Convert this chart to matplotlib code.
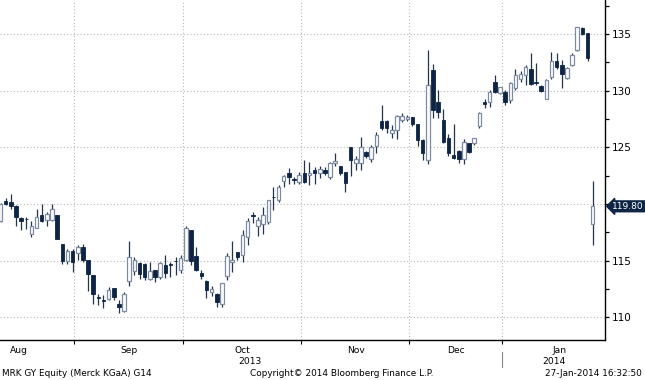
import numpy as np
import matplotlib
matplotlib.use('Agg')
import matplotlib.pyplot as plt
import matplotlib.transforms as mtransforms
from matplotlib.ticker import MultipleLocator

# ── data: daily OHLC, MRK GY, 12-Aug-2013 .. 27-Jan-2014 ─────────────────────
opens = [118.5, 120.3, 120.2, 119.8, 118.8, 118.7, 117.4, 117.9, 119.0, 118.6,
         118.6, 119.0, 116.45, 114.95, 115.9, 115.7, 116.2, 115.05, 113.7, 111.8,
         111.5, 111.6, 112.6, 111.2, 110.6, 113.2, 114.1, 114.8, 114.7, 113.4,
         114.2, 113.6, 114.6, 114.7, 115.0, 114.2, 115.1, 117.7, 115.4, 113.95,
         113.25, 112.25, 112.1, 111.2, 113.65, 114.9, 115.8, 115.5, 117.1, 119.0,
         118.1, 118.2, 118.4, 120.65, 120.35, 122.0, 122.7, 122.2, 121.95, 122.75,
         122.55, 123.0, 122.7, 123.0, 122.4, 123.6, 123.35, 122.85, 125.0, 123.65,
         123.6, 124.6, 124.0, 125.1, 127.3, 127.35, 126.3, 126.5, 127.4, 127.5,
         127.65, 127.05, 125.65, 123.9, 131.8, 129.0, 127.4, 125.8, 124.3, 124.7,
         123.95, 125.35, 125.35, 126.9, 129.0, 129.0, 130.8, 129.8, 129.9, 129.2,
         130.2, 131.0, 131.4, 131.9, 130.75, 130.4, 129.3, 131.2, 132.6, 132.3,
         131.1, 132.3, 133.6, 135.5, 135.1, 118.2]
highs = [120.1, 120.5, 120.9, 119.9, 118.85, 118.9, 118.5, 119.6, 120.0, 119.3,
         120.0, 119.05, 116.5, 116.0, 116.0, 116.4, 116.5, 115.1, 113.7, 112.1,
         112.0, 112.7, 112.6, 111.5, 112.2, 116.7, 115.3, 114.9, 114.8, 114.9,
         114.2, 114.9, 115.5, 114.9, 115.35, 115.5, 118.1, 117.7, 116.2, 114.2,
         113.3, 112.8, 112.15, 113.05, 115.65, 116.7, 115.8, 117.7, 118.8, 119.3,
         118.9, 119.7, 120.4, 121.5, 121.7, 122.6, 123.2, 122.35, 122.85, 123.9,
         123.7, 123.3, 123.4, 123.3, 123.7, 124.5, 123.35, 122.85, 125.0, 124.2,
         125.9, 124.7, 125.2, 126.4, 128.7, 127.4, 127.0, 127.85, 128.0, 127.85,
         127.7, 127.1, 125.7, 133.6, 132.35, 130.05, 128.4, 126.2, 127.05, 124.8,
         125.7, 125.35, 125.85, 128.15, 129.25, 130.05, 131.4, 130.35, 130.05, 130.8,
         131.9, 131.7, 132.3, 133.3, 132.4, 130.5, 131.0, 133.4, 133.3, 132.7,
         132.1, 133.35, 135.6, 135.6, 135.1, 122.05]
lows = [118.4, 119.9, 119.6, 118.1, 117.7, 117.8, 117.1, 117.85, 118.4, 118.1,
        118.5, 116.9, 114.75, 114.75, 114.0, 115.05, 114.9, 112.3, 111.2, 111.1,
        110.8, 111.5, 111.5, 110.35, 110.5, 112.8, 113.7, 113.4, 113.3, 113.3,
        113.1, 113.4, 113.5, 113.6, 113.7, 113.9, 115.0, 114.6, 114.1, 113.4,
        111.75, 111.9, 110.9, 110.9, 113.3, 114.0, 115.05, 114.9, 116.4, 118.3,
        117.2, 117.4, 118.2, 119.5, 120.2, 121.5, 121.8, 121.8, 121.8, 121.9,
        121.7, 121.8, 122.3, 122.55, 122.2, 123.4, 122.55, 121.1, 122.5, 123.0,
        123.0, 124.1, 123.7, 124.5, 126.5, 126.3, 125.8, 125.7, 127.2, 127.3,
        126.9, 125.1, 123.9, 123.5, 127.6, 127.6, 125.35, 124.2, 123.95, 123.65,
        123.5, 124.5, 125.2, 126.75, 128.5, 128.6, 129.8, 129.7, 128.7, 128.95,
        130.05, 130.8, 130.5, 130.5, 130.5, 129.9, 129.3, 131.0, 131.95, 130.2,
        131.0, 132.2, 133.5, 134.9, 132.6, 116.4]
closes = [120.0, 120.0, 119.8, 118.9, 118.5, 118.65, 118.1, 118.9, 118.5, 119.1,
          119.55, 116.9, 114.95, 115.9, 114.9, 116.2, 115.05, 113.8, 112.1, 111.75,
          111.45, 112.4, 111.8, 110.9, 112.1, 115.3, 115.05, 113.8, 113.6, 114.1,
          113.6, 114.8, 113.9, 114.6, 114.95, 115.2, 117.9, 115.0, 114.2, 113.65,
          112.45, 112.55, 111.35, 113.0, 115.4, 115.1, 115.3, 117.3, 118.5, 118.95,
          118.6, 119.0, 120.35, 120.6, 121.5, 122.5, 122.35, 122.15, 122.55, 121.95,
          122.75, 122.75, 123.1, 122.7, 123.6, 123.8, 122.7, 121.9, 123.9, 123.95,
          125.05, 124.2, 125.05, 126.1, 126.7, 126.7, 126.5, 127.8, 127.8, 127.7,
          127.1, 125.65, 124.5, 130.5, 128.3, 128.15, 125.5, 124.5, 124.1, 123.95,
          125.5, 124.6, 125.8, 128.0, 128.8, 129.9, 129.9, 130.3, 129.0, 130.65,
          131.4, 131.5, 132.1, 130.6, 130.65, 130.0, 130.95, 132.6, 132.1, 131.5,
          132.0, 133.15, 135.6, 135.0, 132.9, 119.8]

month_labels = ['Aug', 'Sep', 'Oct', 'Nov', 'Dec', 'Jan']
month_shown  = [15, 21, 23, 21, 18, 18]   # trading days visible on chart
month_full   = [22, 21, 23, 21, 18, 22]   # trading days in the whole month
year_labels  = ['2013', '2014']
y_ticks      = [110, 115, 120, 125, 130, 135]
last_price   = 119.80

# ── style ─────────────────────────────────────────────────────────────────────
NAVY   = '#0d2444'
WICK   = '#24344f'
W_EDGE = '#7d8ca3'
GRID   = '#b8b8b8'
plt.rcParams['font.family'] = ['DejaVu Sans']

fig = plt.figure(figsize=(6.45, 3.8), dpi=100, facecolor='white')
ax = fig.add_axes([0.0, 0.105, 0.938, 0.895])

x = np.arange(len(closes))
o = np.array(opens); c = np.array(closes)
up = c >= o

ax.vlines(x, lows, highs, color=WICK, lw=0.9, zorder=2)
body_lo = np.minimum(o, c)
body_h  = np.maximum(np.abs(c - o), 0.04)
ax.bar(x[up], body_h[up], bottom=body_lo[up], width=0.68,
       color='white', edgecolor=W_EDGE, linewidth=0.9, zorder=3)
ax.bar(x[~up], body_h[~up], bottom=body_lo[~up], width=0.68,
       color=NAVY, edgecolor=NAVY, linewidth=0.6, zorder=3)

# month boundaries
ends   = np.cumsum(month_shown) - 1
starts = ends - np.array(month_shown) + 1
for e in ends[:-1]:
    ax.axvline(e + 0.35, color=GRID, ls=(0, (1, 2)), lw=0.8, zorder=1)
for t in y_ticks:
    ax.axhline(t, color=GRID, ls=(0, (1, 2)), lw=0.8, zorder=1)

ax.set_xlim(-0.1, 117.4)
ax.set_ylim(108.0, 138.0)

for s in ['left', 'top']:
    ax.spines[s].set_visible(False)
ax.spines['right'].set_linewidth(1.0)
ax.spines['bottom'].set_linewidth(1.0)

# the 120 label sits under the last-price tag, as in the original
ax.yaxis.tick_right()
ax.set_yticks(y_ticks)
ax.set_yticklabels(['' if t == 120 else str(t) for t in y_ticks], fontsize=7.5)
ax.yaxis.set_minor_locator(MultipleLocator(2.5))
ax.tick_params(axis='y', which='both', direction='out', length=3, width=0.9, pad=2)

ax.set_xticks(ends[:-1] + 0.35)
ax.set_xticklabels([])
ax.tick_params(axis='x', direction='out', length=3, width=0.8)

trans = mtransforms.blended_transform_factory(ax.transData, ax.transAxes)
for lab, s, e, full in zip(month_labels, starts, ends, month_full):
    if lab == 'Aug':
        cx = e - (full - 1) / 2
    else:
        cx = s + (full - 1) / 2
    ax.text(cx, -0.016, lab, transform=trans, ha='center', va='top', fontsize=6.6)

ax.text((starts[0] + ends[4]) / 2, -0.05, year_labels[0], transform=trans,
        ha='center', va='top', fontsize=6.6)
ax.text(starts[5] + 9.5, -0.05, year_labels[1], transform=trans,
        ha='center', va='top', fontsize=6.6)
ax.plot([ends[4] + 0.35] * 2, [-0.035, -0.08], transform=trans, color='#888888',
        lw=0.8, clip_on=False)

# last price tag
ax.text(1.012, last_price, f'{last_price:.2f}',
        transform=mtransforms.blended_transform_factory(ax.transAxes, ax.transData),
        ha='left', va='center', fontsize=6.5, color='white', zorder=5,
        bbox=dict(boxstyle='larrow,pad=0.1', fc=NAVY, ec=NAVY))

# footer
fig.text(0.003, 0.004, 'MRK GY Equity (Merck KGaA) G14', fontsize=6.4, ha='left', va='bottom')
fig.text(0.53, 0.004, 'Copyright\u00a9 2014 Bloomberg Finance L.P.', fontsize=6.4,
         ha='center', va='bottom')
fig.text(0.995, 0.004, '27-Jan-2014 16:32:50', fontsize=6.4, ha='right', va='bottom')

fig.savefig('out.png', dpi=100, facecolor='white')
